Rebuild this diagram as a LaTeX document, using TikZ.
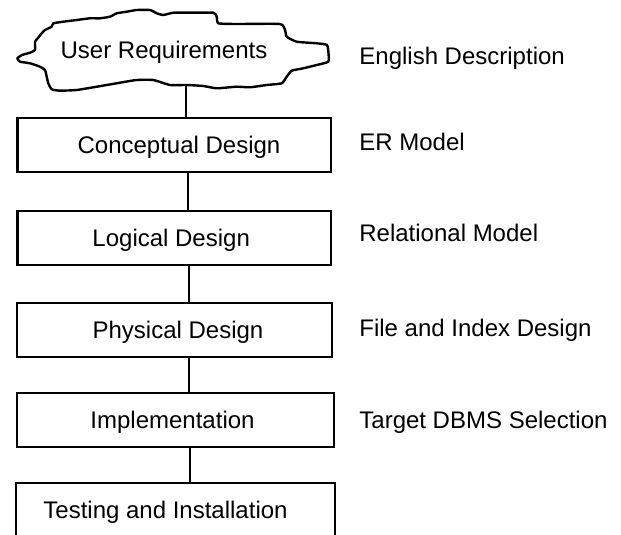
\documentclass[tikz,border=0pt]{standalone}
\usepackage{fontspec}
\setmainfont{Liberation Sans}
\begin{document}
\begin{tikzpicture}[x=0.5pt,y=-0.5pt,
  every node/.style={font=\fontsize{12pt}{14pt}\selectfont},
  stagebox/.style={draw, line width=1.2pt, rectangle, minimum height=27pt,
    inner sep=0pt, text height=8.6pt, text depth=0pt},
  cloudline/.style={line width=1.2pt, line join=round},
  link/.style={line width=1.2pt},
  note/.style={anchor=base west, inner sep=0pt}]
\clip (0,0) rectangle (621,535);
\fill[white] (0,0) rectangle (621,535);
% cloud outline
\draw[cloudline] plot[smooth cycle, tension=0.3] coordinates {
 (17.3,58.3) (22,55) (30,52.7) (35,50) (35,41.7) (38,38) (41.7,33.3) (45,30)
 (51.7,26.7) (53.3,23.3) (63.3,21.7) (76.7,20) (90,18.3) (100,18.3) (110,16.7)
 (116.7,13.3) (126.7,11.7) (136.7,10) (150,10) (156.7,13.3) (163.3,15)
 (173.3,12.7) (186.7,12.7) (213.3,12.7) (216.7,16.7) (218.3,23.3) (236.7,24)
 (280,24) (285,30) (286.7,36.7) (296.7,41.7) (316.7,43.3) (327,45) (328.5,53.3)
 (328.3,61.7) (316.7,65) (303.3,68.3) (291.7,70.7) (286.7,76.7) (281.7,83.3)
 (266.7,85) (250,87.3) (236.7,86.7) (216.7,88.3) (203.3,86) (186.7,85)
 (170,85) (153.3,80) (136.7,80) (120,82.7) (106.7,85) (93.3,87.3) (76.7,90)
 (60,90.7) (51.7,89.3) (48.3,83.3) (46.7,76.7) (45,70) (40,66.7) (30,63.3)
 (20,61.7)};
\node[anchor=base, inner sep=0pt] (ur) at (164,59) {User Requirements};
\coordinate (urb) at (186,85);
% stage boxes
\node[stagebox, minimum width=156.7pt] (cd) at (174,145) {\hspace*{5pt}Conceptual Design};
\node[stagebox, minimum width=156.9pt] (ld) at (174.2,238) {Logical Design\hspace*{3pt}};
\node[stagebox, minimum width=157.5pt] (pd) at (174.5,329.7) {\hspace*{3.5pt}Physical Design};
\node[stagebox, minimum width=158.5pt] (im) at (175.5,420) {Implementation\hspace*{3pt}};
\node[stagebox, minimum width=159.5pt] (ti) at (175.5,510) {Testing and Installation\hspace*{10pt}};
% connectors
\coordinate (c1) at (188,0);
\coordinate (c2) at (189,0);
\coordinate (c3) at (190,0);
\draw[link] (urb) -- (cd.north -| urb);
\draw[link] (cd.south -| c1) -- (ld.north -| c1);
\draw[link] (ld.south -| c2) -- (pd.north -| c2);
\draw[link] (pd.south -| c2) -- (im.north -| c2);
\draw[link] (im.south -| c3) -- (ti.north -| c3);
% descriptions
\node[note] (n1) at (359,65) {English Description};
\node[note] (n2) at (359,150) {ER Model};
\node[note] (n3) at (359,241.7) {Relational Model};
\node[note] (n4) at (359,336.7) {File and Index Design};
\node[note] (n5) at (359,428.3) {Target DBMS Selection};
\end{tikzpicture}
\end{document}
